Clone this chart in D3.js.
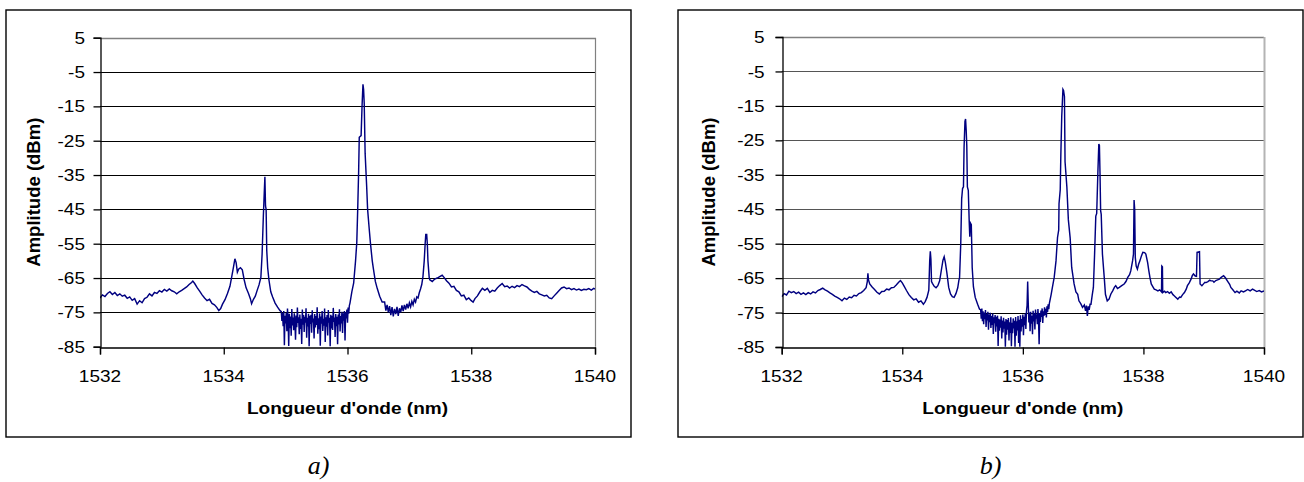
<!DOCTYPE html>
<html>
<head>
<meta charset="utf-8">
<script src="https://cdn.jsdelivr.net/npm/d3@7"></script>
<style>
  html, body { margin: 0; padding: 0; background: #fff; }
  svg { display: block; }
  text { font-family: "Liberation Sans", Arial, sans-serif; fill: #000; }
</style>
</head>
<body>
<svg id="chart" width="1304" height="482"></svg>
<script>
// ---------------- DATA ----------------
const yTicks = [5, -5, -15, -25, -35, -45, -55, -65, -75, -85];
const xTicks = [1532, 1534, 1536, 1538, 1540];
const xTitle = "Longueur d'onde (nm)";
const yTitle = "Amplitude (dBm)";
const captions = ["a)", "b)"];

// Spectrum a) : [wavelength (nm), amplitude (dBm)]
const spectrumA = [
[1532.00,-70.8],[1532.04,-69.9],[1532.08,-70.4],[1532.12,-69.5],[1532.16,-69.0],[1532.20,-69.8],[1532.24,-69.2],[1532.28,-70.1],
[1532.32,-69.6],[1532.36,-70.3],[1532.40,-70.0],[1532.44,-70.9],[1532.48,-70.5],[1532.52,-71.5],[1532.56,-71.0],[1532.60,-72.6],
[1532.64,-71.6],[1532.68,-72.2],[1532.72,-71.0],[1532.76,-70.6],[1532.80,-69.6],[1532.84,-70.2],[1532.88,-69.2],[1532.92,-69.5],
[1532.96,-68.7],[1533.00,-69.1],[1533.04,-68.3],[1533.08,-68.8],[1533.12,-68.2],[1533.16,-68.7],[1533.20,-69.0],[1533.24,-69.6],
[1533.28,-69.0],[1533.32,-68.6],[1533.36,-68.1],[1533.40,-67.6],[1533.44,-66.9],[1533.48,-66.3],[1533.50,-65.9],[1533.53,-66.6],
[1533.57,-67.8],[1533.61,-68.8],[1533.65,-69.9],[1533.69,-70.8],[1533.73,-71.6],[1533.77,-71.2],[1533.81,-72.4],[1533.85,-72.8],
[1533.89,-73.6],[1533.92,-74.5],[1533.95,-73.9],[1533.98,-72.6],[1534.02,-71.3],[1534.06,-69.5],[1534.10,-67.4],[1534.13,-64.5],
[1534.16,-61.5],[1534.18,-59.4],[1534.20,-60.5],[1534.22,-63.3],[1534.24,-62.4],[1534.27,-62.0],[1534.30,-62.6],[1534.33,-65.5],
[1534.36,-67.8],[1534.40,-69.5],[1534.43,-71.0],[1534.45,-72.5],[1534.48,-71.2],[1534.51,-70.3],[1534.54,-68.6],[1534.57,-67.0],
[1534.60,-64.8],[1534.62,-58.0],[1534.64,-47.0],[1534.655,-40.0],[1534.665,-35.5],[1534.675,-44.0],[1534.685,-45.0],[1534.695,-57.0],
[1534.71,-62.0],[1534.73,-65.5],[1534.76,-69.0],[1534.79,-70.5],[1534.83,-72.3],[1534.87,-73.5],[1534.91,-74.5],
[1534.93,-74.8],[1534.94,-77.5],[1534.95,-75.2],[1534.96,-79.0],[1534.97,-74.6],[1534.98,-84.6],[1534.99,-76.0],[1535.00,-78.2],
[1535.01,-75.1],[1535.02,-80.5],[1535.03,-73.9],[1535.04,-77.0],[1535.05,-84.8],[1535.06,-75.4],[1535.07,-79.6],[1535.08,-76.2],
[1535.09,-81.8],[1535.10,-74.0],[1535.11,-78.8],[1535.12,-76.5],[1535.13,-80.2],[1535.14,-75.3],[1535.15,-77.6],[1535.16,-83.0],
[1535.17,-75.9],[1535.18,-79.3],[1535.19,-73.6],[1535.20,-78.1],[1535.21,-76.4],[1535.22,-81.4],[1535.23,-75.6],[1535.24,-79.8],
[1535.25,-76.9],[1535.26,-84.2],[1535.27,-74.2],[1535.28,-78.6],[1535.29,-75.8],[1535.30,-80.7],[1535.31,-76.3],[1535.32,-78.0],
[1535.33,-73.8],[1535.34,-82.4],[1535.35,-76.6],[1535.36,-79.1],[1535.37,-75.4],[1535.38,-84.9],[1535.39,-76.0],[1535.40,-78.4],
[1535.41,-75.7],[1535.42,-80.9],[1535.43,-74.4],[1535.44,-77.9],[1535.45,-76.8],[1535.46,-82.6],[1535.47,-75.5],[1535.48,-79.4],
[1535.49,-76.1],[1535.50,-78.7],[1535.51,-73.5],[1535.52,-81.2],[1535.53,-76.7],[1535.54,-79.9],[1535.55,-75.3],[1535.56,-84.7],
[1535.57,-76.2],[1535.58,-78.3],[1535.59,-74.6],[1535.60,-80.4],[1535.61,-76.9],[1535.62,-78.9],[1535.63,-73.9],[1535.64,-83.6],
[1535.65,-76.4],[1535.66,-79.2],[1535.67,-75.8],[1535.68,-81.7],[1535.69,-74.3],[1535.70,-78.0],[1535.71,-76.6],[1535.72,-84.9],
[1535.73,-75.7],[1535.74,-79.7],[1535.75,-76.0],[1535.76,-80.1],[1535.77,-73.7],[1535.78,-77.8],[1535.79,-76.5],[1535.80,-82.2],
[1535.81,-75.5],[1535.82,-79.0],[1535.83,-76.3],[1535.84,-84.3],[1535.85,-75.6],[1535.86,-78.5],[1535.87,-74.1],[1535.88,-80.6],
[1535.89,-76.1],[1535.90,-78.2],[1535.91,-74.8],[1535.92,-81.0],[1535.93,-75.3],[1535.94,-77.4],[1535.95,-74.6],[1535.96,-83.2],
[1535.97,-75.0],[1535.98,-76.8],[1535.99,-74.2],[1536.00,-78.0],[1536.01,-73.6],[1536.02,-75.4],[1536.03,-73.0],
[1536.04,-72.3],[1536.07,-69.0],[1536.10,-66.4],[1536.13,-60.0],[1536.15,-54.7],[1536.165,-45.0],[1536.18,-34.0],[1536.19,-24.0],
[1536.22,-23.5],[1536.235,-15.0],[1536.25,-8.6],[1536.26,-10.0],[1536.27,-14.0],[1536.285,-28.7],[1536.31,-38.4],[1536.325,-45.0],
[1536.35,-50.5],[1536.37,-54.7],[1536.40,-60.0],[1536.42,-62.5],[1536.45,-66.0],[1536.48,-68.0],[1536.52,-70.3],[1536.56,-72.0],
[1536.60,-72.0],[1536.62,-74.5],[1536.64,-72.8],[1536.66,-75.0],[1536.68,-73.2],[1536.70,-75.8],[1536.72,-73.5],[1536.74,-76.2],
[1536.76,-74.0],[1536.78,-75.5],[1536.80,-73.4],[1536.82,-76.0],[1536.84,-73.8],[1536.86,-75.0],[1536.88,-73.0],[1536.90,-74.6],
[1536.92,-72.8],[1536.94,-74.2],[1536.96,-72.5],[1536.98,-73.8],[1537.00,-72.2],[1537.02,-73.4],[1537.04,-71.8],[1537.06,-72.8],
[1537.08,-71.2],[1537.10,-72.0],[1537.12,-70.5],[1537.14,-70.8],[1537.16,-69.3],[1537.18,-68.2],[1537.20,-66.9],[1537.22,-64.5],
[1537.24,-60.0],[1537.255,-55.0],[1537.265,-52.3],[1537.28,-52.3],[1537.29,-55.0],[1537.30,-60.0],[1537.32,-64.8],
[1537.33,-65.5],[1537.37,-66.0],[1537.41,-65.3],[1537.45,-65.0],[1537.49,-64.6],[1537.53,-64.2],[1537.56,-64.8],[1537.60,-65.8],
[1537.64,-66.5],[1537.68,-67.6],[1537.72,-67.4],[1537.76,-68.6],[1537.80,-69.0],[1537.84,-70.2],[1537.88,-70.0],[1537.92,-71.3],
[1537.96,-70.8],[1538.00,-71.6],[1538.03,-72.0],[1538.06,-71.0],[1538.10,-70.2],[1538.14,-69.0],[1538.18,-68.0],[1538.22,-68.6],
[1538.26,-68.0],[1538.30,-69.2],[1538.34,-68.6],[1538.38,-68.8],[1538.42,-67.9],[1538.46,-67.2],[1538.50,-66.6],[1538.54,-67.5],
[1538.58,-67.3],[1538.62,-67.9],[1538.66,-67.4],[1538.70,-67.8],[1538.74,-67.2],[1538.78,-67.5],[1538.82,-66.9],[1538.86,-67.3],
[1538.90,-67.6],[1538.94,-68.3],[1538.98,-68.8],[1539.02,-69.2],[1539.06,-68.9],[1539.10,-69.6],[1539.14,-69.9],[1539.18,-70.2],
[1539.22,-70.0],[1539.26,-70.8],[1539.30,-71.0],[1539.34,-70.2],[1539.38,-69.4],[1539.42,-68.6],[1539.46,-67.9],[1539.50,-67.6],
[1539.54,-68.1],[1539.58,-67.9],[1539.62,-68.4],[1539.66,-68.1],[1539.70,-68.5],[1539.74,-68.2],[1539.78,-68.6],[1539.82,-68.3],
[1539.86,-68.4],[1539.90,-68.1],[1539.94,-68.5],[1539.98,-68.0],[1540.00,-68.2]
];

// Spectrum b) : [wavelength (nm), amplitude (dBm)]
const spectrumB = [
[1532.00,-70.4],[1532.04,-69.5],[1532.08,-69.9],[1532.12,-68.8],[1532.16,-69.2],[1532.20,-68.9],[1532.24,-69.5],[1532.28,-69.1],
[1532.32,-69.7],[1532.36,-69.3],[1532.40,-69.8],[1532.44,-69.2],[1532.48,-69.6],[1532.52,-69.0],[1532.56,-69.3],[1532.60,-68.6],
[1532.64,-68.3],[1532.68,-67.9],[1532.72,-68.4],[1532.76,-68.8],[1532.80,-69.3],[1532.84,-69.7],[1532.88,-70.2],[1532.92,-70.6],
[1532.96,-71.0],[1533.00,-71.6],[1533.04,-70.8],[1533.08,-71.2],[1533.12,-70.5],[1533.16,-70.7],[1533.20,-70.0],[1533.24,-70.2],
[1533.28,-69.5],[1533.32,-69.2],[1533.36,-68.6],[1533.40,-67.8],[1533.42,-66.0],[1533.43,-63.6],[1533.44,-65.5],[1533.46,-66.7],
[1533.50,-67.6],[1533.54,-68.3],[1533.58,-69.1],[1533.62,-69.6],[1533.66,-68.9],[1533.70,-68.8],[1533.74,-68.2],[1533.78,-68.4],
[1533.82,-67.8],[1533.86,-67.7],[1533.90,-67.0],[1533.94,-66.2],[1533.97,-65.7],[1534.00,-66.4],[1534.03,-67.3],[1534.07,-68.6],
[1534.11,-69.8],[1534.15,-70.6],[1534.19,-71.3],[1534.23,-71.0],[1534.27,-72.0],[1534.31,-71.6],[1534.35,-72.6],[1534.38,-71.8],
[1534.41,-70.6],[1534.44,-68.5],[1534.455,-60.0],[1534.465,-57.2],[1534.475,-59.5],[1534.485,-66.0],[1534.50,-66.5],[1534.53,-67.4],
[1534.56,-67.8],[1534.59,-67.2],[1534.62,-65.8],[1534.65,-62.5],[1534.675,-59.8],[1534.695,-58.8],[1534.715,-60.5],[1534.74,-63.5],
[1534.77,-67.7],[1534.80,-69.6],[1534.83,-70.4],[1534.86,-70.6],[1534.89,-69.5],[1534.92,-67.8],[1534.94,-65.5],
[1534.95,-65.0],[1534.97,-55.0],[1534.985,-42.0],[1535.00,-39.0],[1535.015,-38.5],[1535.025,-27.0],[1535.04,-19.5],[1535.05,-18.8],
[1535.06,-22.0],[1535.07,-26.5],[1535.08,-38.5],[1535.095,-39.5],[1535.11,-48.5],[1535.12,-53.0],[1535.13,-49.0],[1535.145,-49.5],
[1535.16,-62.0],[1535.18,-67.5],[1535.21,-70.6],[1535.25,-72.6],[1535.28,-74.0],
[1535.30,-74.2],[1535.31,-76.8],[1535.32,-73.8],[1535.33,-77.5],[1535.34,-74.6],[1535.35,-78.4],[1535.36,-75.0],[1535.37,-76.9],
[1535.38,-74.3],[1535.39,-79.2],[1535.40,-75.4],[1535.41,-77.3],[1535.42,-74.8],[1535.43,-80.0],[1535.44,-75.6],[1535.45,-77.8],
[1535.46,-75.1],[1535.47,-79.5],[1535.48,-76.0],[1535.49,-78.6],[1535.50,-75.3],[1535.51,-81.2],[1535.52,-76.4],[1535.53,-78.1],
[1535.54,-75.7],[1535.55,-80.6],[1535.56,-76.2],[1535.57,-79.0],[1535.58,-75.9],[1535.59,-84.7],[1535.60,-76.8],[1535.61,-80.3],
[1535.62,-77.0],[1535.63,-79.4],[1535.64,-76.1],[1535.65,-82.5],[1535.66,-77.3],[1535.67,-80.8],[1535.68,-76.5],[1535.69,-79.7],
[1535.70,-77.6],[1535.71,-84.9],[1535.72,-76.9],[1535.73,-81.4],[1535.74,-77.2],[1535.75,-80.0],[1535.76,-76.6],[1535.77,-83.1],
[1535.78,-77.8],[1535.79,-80.9],[1535.80,-76.4],[1535.81,-84.8],[1535.82,-78.0],[1535.83,-81.0],[1535.84,-76.7],[1535.85,-79.6],
[1535.86,-77.4],[1535.87,-84.9],[1535.88,-76.3],[1535.89,-81.7],[1535.90,-77.5],[1535.91,-80.2],[1535.92,-76.0],[1535.93,-83.8],
[1535.94,-77.1],[1535.95,-84.9],[1535.96,-75.8],[1535.97,-80.5],[1535.98,-76.9],[1535.99,-79.1],[1536.00,-75.6],[1536.01,-81.6],
[1536.02,-76.2],[1536.03,-78.7],[1536.04,-75.3],[1536.05,-79.8],[1536.06,-74.6],[1536.07,-73.0],[1536.08,-66.0],[1536.09,-72.5],
[1536.10,-77.9],[1536.11,-75.0],[1536.12,-80.4],[1536.13,-74.8],[1536.14,-78.2],[1536.15,-75.9],[1536.16,-81.3],[1536.17,-74.5],
[1536.18,-77.6],[1536.19,-75.2],[1536.20,-79.9],[1536.21,-74.1],[1536.22,-76.8],[1536.23,-75.5],[1536.24,-78.4],[1536.25,-74.0],
[1536.26,-76.9],[1536.27,-84.2],[1536.28,-75.1],[1536.29,-77.7],[1536.30,-74.4],[1536.31,-76.3],[1536.32,-73.8],[1536.33,-78.0],
[1536.34,-74.6],[1536.35,-76.0],[1536.36,-73.5],[1536.37,-75.7],[1536.38,-73.9],[1536.39,-76.4],[1536.40,-73.2],[1536.41,-74.8],
[1536.42,-72.6],[1536.43,-74.0],[1536.44,-72.3],
[1536.47,-69.7],[1536.49,-67.7],[1536.52,-64.8],[1536.55,-60.0],[1536.575,-53.2],[1536.595,-51.0],[1536.60,-43.4],[1536.62,-39.4],
[1536.63,-29.3],[1536.645,-18.1],[1536.665,-10.2],[1536.675,-10.5],[1536.69,-12.3],[1536.70,-31.2],[1536.73,-38.5],[1536.755,-48.1],
[1536.785,-53.4],[1536.81,-61.9],[1536.85,-66.7],[1536.88,-69.0],[1536.91,-69.7],[1536.93,-71.6],[1536.96,-72.4],[1536.99,-73.5],
[1537.02,-72.8],[1537.04,-74.5],[1537.055,-73.0],[1537.07,-76.0],[1537.085,-73.2],[1537.10,-74.2],[1537.115,-72.6],[1537.13,-72.6],
[1537.15,-70.0],[1537.17,-67.7],[1537.19,-58.0],[1537.21,-47.0],[1537.225,-46.2],[1537.245,-34.0],[1537.26,-26.1],[1537.27,-26.5],
[1537.28,-34.6],[1537.29,-45.4],[1537.30,-46.5],[1537.32,-58.0],[1537.35,-64.8],[1537.37,-69.7],[1537.40,-71.6],[1537.43,-71.1],
[1537.46,-69.6],[1537.49,-68.7],[1537.52,-67.6],[1537.54,-67.2],[1537.57,-68.0],[1537.60,-67.7],[1537.64,-67.2],[1537.68,-66.7],
[1537.71,-66.0],[1537.74,-64.8],[1537.77,-64.0],[1537.79,-62.9],[1537.82,-60.0],[1537.835,-58.0],[1537.845,-42.3],[1537.855,-45.0],
[1537.865,-59.0],[1537.88,-61.5],[1537.90,-62.4],[1537.92,-61.0],[1537.94,-60.0],[1537.97,-58.4],[1537.99,-57.5],[1538.02,-57.6],
[1538.04,-58.0],[1538.07,-60.5],[1538.09,-62.9],[1538.11,-65.0],[1538.13,-66.7],[1538.16,-67.6],[1538.18,-68.2],[1538.21,-68.4],
[1538.24,-68.7],[1538.27,-68.4],[1538.30,-69.0],[1538.305,-61.5],[1538.315,-61.7],[1538.32,-69.2],[1538.35,-68.8],[1538.37,-69.2],
[1538.40,-68.9],[1538.43,-69.4],[1538.46,-69.0],[1538.49,-69.8],[1538.51,-70.1],[1538.54,-70.6],[1538.57,-71.1],[1538.60,-70.5],
[1538.62,-70.6],[1538.65,-69.8],[1538.68,-69.2],[1538.71,-68.2],[1538.73,-67.2],[1538.76,-66.4],[1538.79,-65.3],[1538.81,-64.3],
[1538.83,-63.8],[1538.86,-64.4],[1538.88,-64.5],[1538.89,-57.5],[1538.93,-57.3],[1538.94,-66.7],[1538.97,-67.2],[1539.00,-66.6],
[1539.02,-66.2],[1539.04,-66.3],[1539.07,-66.0],[1539.10,-65.6],[1539.12,-65.8],[1539.15,-65.8],[1539.17,-66.2],[1539.20,-65.7],
[1539.23,-65.5],[1539.26,-65.3],[1539.29,-64.8],[1539.33,-64.3],[1539.36,-64.9],[1539.40,-66.0],[1539.43,-66.8],[1539.45,-67.7],
[1539.48,-68.3],[1539.52,-69.2],[1539.55,-68.8],[1539.59,-69.3],[1539.62,-68.7],[1539.66,-69.0],[1539.70,-68.6],[1539.73,-68.3],
[1539.77,-68.7],[1539.81,-68.2],[1539.84,-68.5],[1539.88,-68.9],[1539.92,-68.6],[1539.96,-69.0],[1540.00,-68.7]
];

// ---------------- LAYOUT ----------------
const panels = [
  { data: spectrumA, caption: captions[0], box: [6, 10, 631, 437], plot: [100, 37.7, 595, 346.7], yTitleX: 40, labelGap: 15 },
  { data: spectrumB, caption: captions[1], box: [678, 10, 1303, 437], plot: [781.7, 37, 1264, 347], yTitleX: 715, labelGap: 17 }
];
const SX = 1.12; // horizontal stretch of the original lettering

const svg = d3.select("#chart");

panels.forEach((p, i) => {
  const [bx0, by0, bx1, by1] = p.box;
  const [px0, py0, px1, py1] = p.plot;
  const g = svg.append("g");

  g.append("rect")
    .attr("x", bx0).attr("y", by0)
    .attr("width", bx1 - bx0).attr("height", by1 - by0)
    .attr("fill", "none").attr("stroke", "#000").attr("stroke-width", 1.4);

  const x = d3.scaleLinear().domain([1532, 1540]).range([px0, px1]);
  const y = d3.scaleLinear().domain([-85, 5]).range([py1, py0]);

  g.append("g").selectAll("line")
    .data(yTicks.filter(v => v !== 5 && v !== -85))
    .join("line")
    .attr("x1", px0).attr("x2", px1)
    .attr("y1", d => Math.round(y(d)) + 0.5).attr("y2", d => Math.round(y(d)) + 0.5)
    .attr("stroke", (d, k) => (i === 1 && k % 2 === 0) ? "#555" : "#000").attr("stroke-width", 1.1);

  g.append("line").attr("x1", px0).attr("x2", px1)
    .attr("y1", Math.round(y(5)) + 0.5).attr("y2", Math.round(y(5)) + 0.5)
    .attr("stroke", "#808080").attr("stroke-width", 1.3);
  g.append("line").attr("x1", Math.round(px1) + 0.5).attr("x2", Math.round(px1) + 0.5)
    .attr("y1", py0).attr("y2", py1)
    .attr("stroke", i === 0 ? "#808080" : "#b4b4b4").attr("stroke-width", i === 0 ? 1.2 : 2);

  const clipId = "clip" + i;
  g.append("clipPath").attr("id", clipId).append("rect")
    .attr("x", px0).attr("y", py0 - 1).attr("width", px1 - px0).attr("height", py1 - py0 + 2);
  const line = d3.line().x(d => x(d[0])).y(d => y(d[1]));
  g.append("path")
    .datum(p.data)
    .attr("clip-path", `url(#${clipId})`)
    .attr("d", line)
    .attr("fill", "none")
    .attr("stroke", "#000080")
    .attr("stroke-width", 1.45)
    .attr("stroke-linejoin", "miter");

  const yAxis = d3.axisLeft(y).tickValues(yTicks).tickSize(7).tickFormat("");
  const xAxis = d3.axisBottom(x).tickValues(xTicks).tickSize(7).tickFormat("");
  const ya = g.append("g").attr("transform", `translate(${Math.round(px0) + 0.5},0)`).call(yAxis);
  const xa = g.append("g").attr("transform", `translate(0,${Math.round(py1) + 0.5})`).call(xAxis);
  [ya, xa].forEach(a => {
    a.selectAll("path.domain").attr("stroke", "#000").attr("stroke-width", 1.3);
    a.selectAll(".tick line").attr("stroke", "#000").attr("stroke-width", 1.3);
  });

  g.append("g").selectAll("text")
    .data(yTicks).join("text")
    .attr("transform", d => `translate(${px0 - p.labelGap},${y(d)}) scale(${SX},1)`)
    .attr("text-anchor", "end")
    .attr("dy", "0.36em")
    .style("font-size", "17px")
    .text(d => d);

  g.append("g").selectAll("text")
    .data(xTicks).join("text")
    .attr("transform", d => `translate(${x(d)},${py1 + 35}) scale(${SX},1)`)
    .attr("text-anchor", "middle")
    .style("font-size", "17px")
    .text(d => d);

  g.append("text")
    .attr("transform", `translate(${(px0 + px1) / 2},414) scale(${SX},1)`)
    .attr("text-anchor", "middle")
    .style("font-size", "17px").style("font-weight", "bold")
    .text(xTitle);

  g.append("text")
    .attr("transform", `translate(${p.yTitleX},${(py0 + py1) / 2}) rotate(-90)`)
    .attr("text-anchor", "middle")
    .style("font-size", "18.5px").style("font-weight", "bold")
    .text(yTitle);

  g.append("text")
    .attr("x", (bx0 + bx1) / 2).attr("y", 474)
    .attr("text-anchor", "middle")
    .style("font-family", "'Liberation Serif', 'Times New Roman', serif")
    .style("font-style", "italic")
    .style("font-size", "26px")
    .text(p.caption);
});
</script>
</body>
</html>
